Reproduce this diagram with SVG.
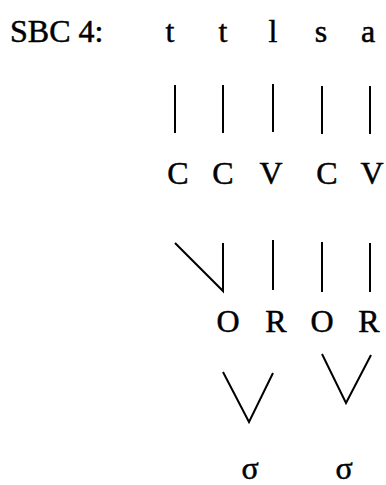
<svg xmlns="http://www.w3.org/2000/svg" width="386" height="485" viewBox="0 0 386 485">
<style>
text{font-family:"Liberation Serif","Times New Roman",serif;font-size:32px;fill:#000;stroke:#000;stroke-width:0.5;text-anchor:middle}
.l{stroke:#000;stroke-width:2;fill:none}
</style>
<rect width="386" height="485" fill="#fff"/>
<g id="label"><text x="10" y="42" style="text-anchor:start">SBC 4:</text></g>
<g id="segments">
<text x="170" y="42">t</text><text x="223" y="42">t</text><text x="273" y="42">l</text><text x="321" y="42">s</text><text x="368" y="42">a</text>
</g>
<g id="cv">
<text x="178" y="184">C</text><text x="223" y="184">C</text><text x="271" y="184">V</text><text x="327" y="184">C</text><text x="372" y="184">V</text>
</g>
<g id="onsetrime">
<text x="228" y="332">O</text><text x="276" y="332">R</text><text x="322" y="332">O</text><text x="369" y="332">R</text>
</g>
<g id="syllables">
<text x="250" y="479">σ</text><text x="344" y="479">σ</text>
</g>
<g id="connectors">
<line class="l" x1="175" y1="85" x2="175" y2="133"/>
<line class="l" x1="223" y1="85" x2="223" y2="133"/>
<line class="l" x1="273" y1="84" x2="273" y2="132"/>
<line class="l" x1="322" y1="86" x2="322" y2="134"/>
<line class="l" x1="370" y1="86" x2="370" y2="134"/>
<polyline class="l" points="175,243 223,291 223,243"/>
<line class="l" x1="273" y1="240" x2="273" y2="290"/>
<line class="l" x1="322" y1="242" x2="322" y2="292"/>
<line class="l" x1="370" y1="243" x2="370" y2="292"/>
<polyline class="l" points="223,372 249,422 273,373"/>
<polyline class="l" points="322,354 346,403 371,355"/>
</g>
</svg>
